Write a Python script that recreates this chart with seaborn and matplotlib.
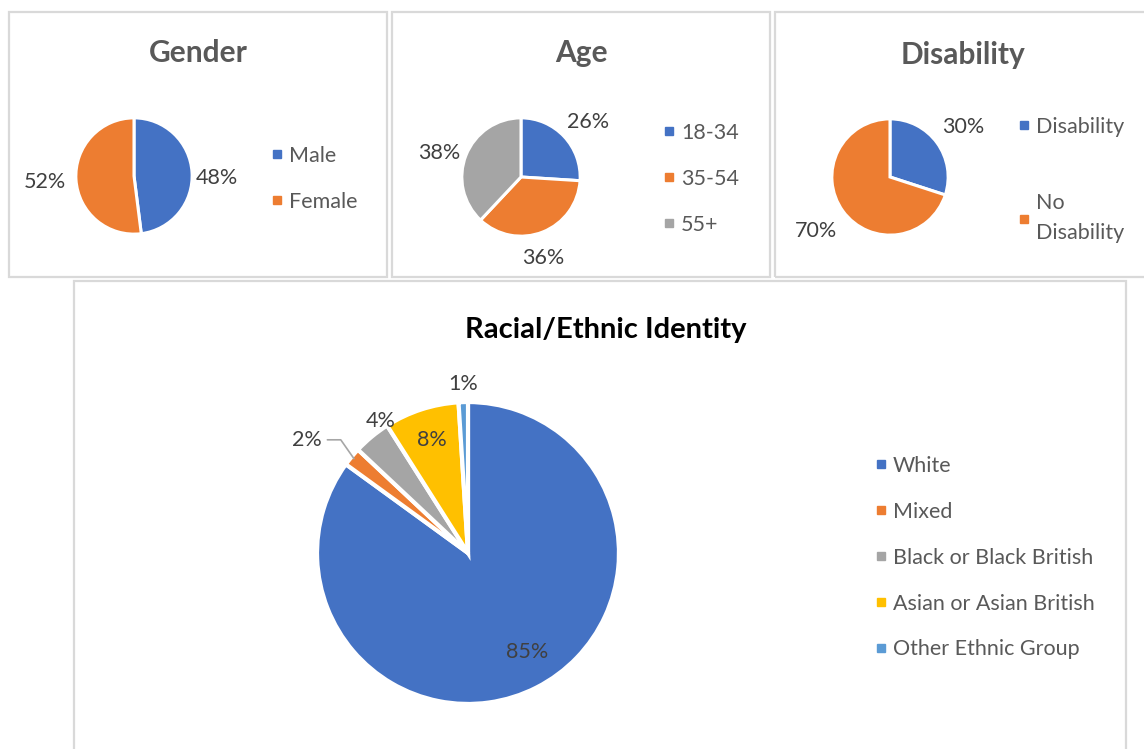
import matplotlib
matplotlib.use('Agg')
import matplotlib.pyplot as plt
import seaborn as sns
import numpy as np
from matplotlib.patches import Rectangle
from matplotlib.lines import Line2D

# ---------------- data ----------------
gender_labels = ['Male', 'Female']
gender_values = [48, 52]
age_labels = ['18-34', '35-54', '55+']
age_values = [26, 36, 38]
disability_labels = ['Disability', 'No\nDisability']
disability_values = [30, 70]
race_labels = ['White', 'Mixed', 'Black or Black British',
               'Asian or Asian British', 'Other Ethnic Group']
race_values = [85, 2, 4, 8, 1]

# ---------------- style ----------------
sns.set_theme(style='white')
plt.rcParams['font.family'] = ['Lato', 'DejaVu Sans']
office = ['#4472C4', '#ED7D31', '#A5A5A5', '#FFC000', '#5B9BD5']
palette = sns.color_palette(office)
LABEL_C = '#404040'
LEGEND_C = '#595959'
BORDER_C = '#D9D9D9'
FS = 15.5

W, H = 1144, 749
fig = plt.figure(figsize=(W / 100, H / 100), dpi=100)
fig.patch.set_facecolor('white')


def fx(x):
    return x / W


def fy(y):
    return 1 - y / H


def panel(x0, y0, x1, y1):
    fig.patches.append(Rectangle((fx(x0), fy(y1)), fx(x1) - fx(x0), fy(y0) - fy(y1),
                                 transform=fig.transFigure, fill=False,
                                 edgecolor=BORDER_C, lw=1.6, zorder=0))


def pie_axes(cx, cy, r, span=2.0):
    s = 2 * span * r
    ax = fig.add_axes([fx(cx - s / 2), fy(cy + s / 2), s / W, s / H])
    ax.set_xlim(-span, span)
    ax.set_ylim(-span, span)
    ax.axis('off')
    return ax


def draw_pie(ax, values, colors, lw, span=2.0):
    wedges, _ = ax.pie(values, colors=colors, startangle=90, counterclock=False,
                       radius=1.02, wedgeprops=dict(edgecolor='white', linewidth=lw))
    ax.set_xlim(-span, span)
    ax.set_ylim(-span, span)
    return wedges


def label_pie(ax, wedges, values, dists, shifts=None, size=FS, color=LABEL_C):
    texts = []
    if shifts is None:
        shifts = [0] * len(values)
    for w, v, d, s in zip(wedges, values, dists, shifts):
        ang = np.deg2rad((w.theta1 + w.theta2) / 2 + s)
        t = ax.text(d * np.cos(ang), d * np.sin(ang), f'{v}%', ha='center',
                    va='center', fontsize=size, color=color)
        texts.append(t)
    return texts


def legend(ax, labels, colors, x, y, spacing, size=FS):
    handles = [Line2D([], [], marker='s', ls='', markersize=6, color=c) for c in colors]
    leg = ax.legend(handles, labels, loc='upper left', bbox_to_anchor=(fx(x), fy(y)),
                    bbox_transform=fig.transFigure, frameon=False, fontsize=size,
                    handlelength=0.55, handletextpad=0.28, labelspacing=spacing,
                    borderpad=0, borderaxespad=0, labelcolor=LEGEND_C)
    return leg


# ---------------- panels ----------------
panel(9, 12, 387, 277)
panel(392, 12, 770, 277)
panel(775, 12, 1155, 277)
panel(74, 281, 1126, 770)

TITLE_FS = 21.5

# Gender
ax = pie_axes(134, 176, 57)
w = draw_pie(ax, gender_values, palette[:2], 2.2)
label_pie(ax, w, gender_values, [1.46, 1.57], [-5, 0])
legend(ax, gender_labels, palette[:2], 271, 146, 1.2)
fig.text(fx(198), fy(53), 'Gender', ha='center', va='center', fontsize=TITLE_FS,
         fontweight='bold', color=LEGEND_C)

# Age
ax = pie_axes(521, 177, 58)
w = draw_pie(ax, age_values, palette[:3], 2.2)
label_pie(ax, w, age_values, [1.5, 1.45, 1.47], [-4, -6, 5])
legend(ax, age_labels, palette[:3], 663, 123, 1.2)
fig.text(fx(581), fy(53), 'Age', ha='center', va='center', fontsize=TITLE_FS,
         fontweight='bold', color=LEGEND_C)

# Disability
ax = pie_axes(890, 177, 57)
w = draw_pie(ax, disability_values, palette[:2], 2.2)
label_pie(ax, w, disability_values, [1.56, 1.61], [-2, 0])
leg = legend(ax, disability_labels, palette[:2], 1018, 117, 2.6)
for t in leg.get_texts():
    t.set_linespacing(1.65)
fig.text(fx(963), fy(55), 'Disability', ha='center', va='center', fontsize=TITLE_FS,
         fontweight='bold', color=LEGEND_C)

# Racial / Ethnic identity
ax = pie_axes(468, 553, 148, span=2.0)
w = draw_pie(ax, race_values, palette[:5], 3.0)
texts = label_pie(ax, w, race_values, [0.78, 1.33, 1.07, 0.8, 1.14], [4, 4.5, -6, 0, 0])
# leader line for the small "Mixed" slice
mid = np.deg2rad((w[1].theta1 + w[1].theta2) / 2)
t2 = texts[1]
ax.annotate('', xy=(np.cos(mid), np.sin(mid)), xytext=t2.get_position(),
            arrowprops=dict(arrowstyle='-', color='#A6A6A6', lw=1.2,
                            connectionstyle='angle,angleA=0,angleB=-55,rad=0',
                            patchA=t2, shrinkA=4, shrinkB=0))
legend(ax, race_labels, palette[:5], 875, 456, 1.2)
fig.text(fx(606), fy(330), 'Racial/Ethnic Identity', ha='center', va='center',
         fontsize=21, fontweight='bold', color='black')

fig.savefig('out.png', dpi=100, facecolor='white')
